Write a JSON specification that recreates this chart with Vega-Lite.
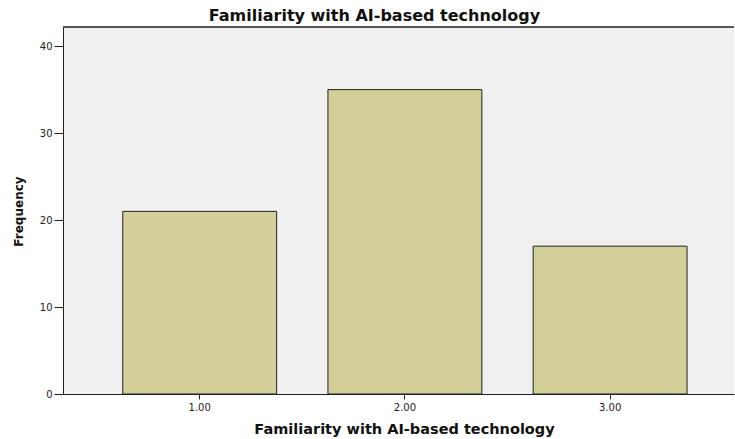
{
  "$schema": "https://vega.github.io/schema/vega-lite/v6.json",
  "autosize": {"type": "none"},
  "width": 671,
  "height": 367,
  "padding": {"left": 63, "top": 27, "right": 1, "bottom": 45},
  "background": "#ffffff",
  "config": {"view": {"stroke": null, "fill": "#f0f0f0"}},
  "title": {
    "text": "Familiarity with AI-based technology",
    "font": "DejaVu Sans",
    "fontSize": 16,
    "fontWeight": "bold",
    "color": "#111111",
    "anchor": "middle",
    "dx": -24,
    "dy": 17.7,
    "baseline": "alphabetic",
    "offset": 6.5
  },
  "data": {
    "values": [
      {"familiarity": "1.00", "frequency": 21},
      {"familiarity": "2.00", "frequency": 35},
      {"familiarity": "3.00", "frequency": 17}
    ]
  },
  "layer": [
    {
      "mark": {"type": "bar", "fill": "#d3cf98", "stroke": "#222222", "strokeWidth": 1},
      "encoding": {
        "x": {
          "field": "familiarity",
          "type": "nominal",
          "sort": null,
          "scale": {"paddingInner": 0.25, "paddingOuter": 0.26, "align": 0.56},
          "axis": {
            "title": "Familiarity with AI-based technology",
            "titleFont": "DejaVu Sans",
            "titleFontSize": 14.5,
            "titleFontWeight": "bold",
            "titleColor": "#111111",
            "titleBaseline": "alphabetic",
            "titleX": 341,
            "titleY": 39.3,
            "labelAngle": 0,
            "labelFont": "DejaVu Sans",
            "labelFontSize": 10,
            "labelColor": "#222222",
            "labelPadding": 3.5,
            "tickSize": 5,
            "tickColor": "#222222",
            "domainColor": "#222222",
            "grid": false
          }
        },
        "y": {
          "field": "frequency",
          "type": "quantitative",
          "scale": {"domain": [0, 42.2], "nice": false},
          "axis": {
            "title": "Frequency",
            "titleFont": "DejaVu Sans",
            "titleFontSize": 12,
            "titleFontWeight": "bold",
            "titleColor": "#111111",
            "titleBaseline": "alphabetic",
            "titleX": -40.5,
            "titleY": 184,
            "values": [0, 10, 20, 30, 40],
            "labelFont": "DejaVu Sans",
            "labelFontSize": 10,
            "labelColor": "#222222",
            "labelPadding": 2,
            "tickSize": 9,
            "tickColor": "#222222",
            "domainColor": "#222222",
            "grid": false
          }
        }
      }
    },
    {
      "mark": {"type": "rule", "stroke": "#555555", "strokeWidth": 1.5},
      "encoding": {"y": {"datum": 42.2, "type": "quantitative"}}
    }
  ]
}
